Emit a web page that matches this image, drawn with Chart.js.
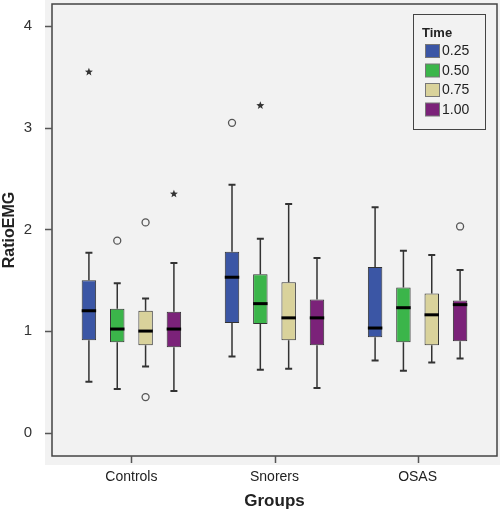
<!DOCTYPE html>
<html>
<head>
<meta charset="utf-8">
<script src="https://cdn.jsdelivr.net/npm/chart.js@4.4.1/dist/chart.umd.min.js"></script>
<style>
  html, body { margin: 0; padding: 0; background: #fff; }
  #wrap { width: 500px; height: 517px; }
</style>
</head>
<body>
<div id="wrap"><canvas id="boxchart"></canvas></div>
<script>
// groups along the x axis
const groups = ['Controls', 'Snorers', 'OSAS'];
const groupIdx = [0, 1, 2];
const yTicks = [0, 1, 2, 3, 4];

// legend entries (Time)
const timeLabels = ['0.25', '0.50', '0.75', '1.00'];
const timeColors = ['#3b56a5', '#3bb54a', '#d9d29b', '#7b2279'];

// per group: [low whisker, Q1, median, Q3, high whisker]
const box025 = [[0.50, 0.91, 1.20, 1.50, 1.77], [0.75, 1.08, 1.53, 1.78, 2.44], [0.71, 0.94, 1.03, 1.63, 2.22]];
const box050 = [[0.43, 0.89, 1.02, 1.22, 1.47], [0.62, 1.07, 1.27, 1.56, 1.91], [0.61, 0.89, 1.23, 1.43, 1.79]];
const box075 = [[0.65, 0.86, 1.00, 1.20, 1.32], [0.63, 0.91, 1.13, 1.48, 2.25], [0.69, 0.86, 1.16, 1.37, 1.75]];
const box100 = [[0.41, 0.84, 1.02, 1.19, 1.67], [0.44, 0.86, 1.13, 1.31, 1.72], [0.73, 0.90, 1.26, 1.30, 1.60]];

// outliers (circles) and extremes (stars) per group
const out025 = [[], [3.05], []];
const out050 = [[1.89], [], []];
const out075 = [[0.35, 2.07], [], []];
const out100 = [[], [], [2.03]];
const ext025 = [[3.55], [], []];
const ext050 = [[], [3.22], []];
const ext075 = [[], [], []];
const ext100 = [[2.35], [], []];

const boxes = [box025, box050, box075, box100];
const outs = [out025, out050, out075, out100];
const exts = [ext025, ext050, ext075, ext100];

const datasets = timeLabels.map((lab, i) => ({
  label: lab,
  data: groupIdx.map((g, j) => ({ x: g, y: [boxes[i][j][1], boxes[i][j][3]] })),
  backgroundColor: timeColors[i],
  borderColor: '#333',
  borderWidth: 1,
  borderSkipped: false,
  stats: boxes[i],
  outliers: outs[i],
  extremes: exts[i],
}));

// draws background, whiskers, medians, outliers, frame, tick marks and legend
const boxExtras = {
  id: 'boxExtras',
  beforeDraw(chart) {
    const ctx = chart.ctx;
    ctx.save();
    ctx.fillStyle = '#f2f2f2';
    ctx.fillRect(45, 0, chart.width - 45, 465);
    ctx.restore();
  },
  beforeDatasetsDraw(chart) {
    const ctx = chart.ctx;
    const y = chart.scales.y;
    ctx.save();
    ctx.strokeStyle = '#333';
    chart.data.datasets.forEach((ds, i) => {
      chart.getDatasetMeta(i).data.forEach((bar, j) => {
        const s = ds.stats[j];
        const lo = y.getPixelForValue(s[0]);
        const q1 = y.getPixelForValue(s[1]);
        const q3 = y.getPixelForValue(s[3]);
        const hi = y.getPixelForValue(s[4]);
        ctx.lineWidth = 1.5;
        ctx.beginPath();
        ctx.moveTo(bar.x, lo); ctx.lineTo(bar.x, q1);
        ctx.moveTo(bar.x, q3); ctx.lineTo(bar.x, hi);
        ctx.stroke();
        ctx.lineWidth = 2;
        ctx.beginPath();
        ctx.moveTo(bar.x - 3.5, lo); ctx.lineTo(bar.x + 3.5, lo);
        ctx.moveTo(bar.x - 3.5, hi); ctx.lineTo(bar.x + 3.5, hi);
        ctx.stroke();
      });
    });
    ctx.restore();
  },
  afterDatasetsDraw(chart) {
    const ctx = chart.ctx;
    const { x, y } = chart.scales;
    const a = chart.chartArea;
    ctx.save();
    chart.data.datasets.forEach((ds, i) => {
      chart.getDatasetMeta(i).data.forEach((bar, j) => {
        const med = y.getPixelForValue(ds.stats[j][2]);
        ctx.strokeStyle = '#000';
        ctx.lineWidth = 3;
        ctx.beginPath();
        ctx.moveTo(bar.x - bar.width / 2, med);
        ctx.lineTo(bar.x + bar.width / 2, med);
        ctx.stroke();
        ds.outliers[j].forEach((v) => {
          ctx.strokeStyle = '#555';
          ctx.lineWidth = 1.3;
          ctx.beginPath();
          ctx.arc(bar.x, y.getPixelForValue(v), 3.5, 0, Math.PI * 2);
          ctx.stroke();
        });
        ds.extremes[j].forEach((v) => {
          const cy = y.getPixelForValue(v);
          ctx.fillStyle = '#333';
          ctx.beginPath();
          for (let k = 0; k < 10; k++) {
            const r = k % 2 ? 1.8 : 4.2;
            const ang = -Math.PI / 2 + k * Math.PI / 5;
            ctx.lineTo(bar.x + r * Math.cos(ang), cy + r * Math.sin(ang));
          }
          ctx.closePath();
          ctx.fill();
        });
      });
    });
    // plot frame
    ctx.strokeStyle = '#444';
    ctx.lineWidth = 1.5;
    ctx.strokeRect(a.left, a.top, a.right - a.left, a.bottom - a.top);
    // tick marks
    ctx.strokeStyle = '#555';
    ctx.lineWidth = 1.5;
    ctx.beginPath();
    yTicks.forEach((v) => {
      const py = Math.round(y.getPixelForValue(v)) + 0.5;
      ctx.moveTo(a.left - 7, py); ctx.lineTo(a.left, py);
    });
    groupIdx.forEach((v) => {
      const px = Math.round(x.getPixelForValue(v)) + 0.5;
      ctx.moveTo(px, a.bottom); ctx.lineTo(px, a.bottom + 7);
    });
    ctx.stroke();
    ctx.restore();
  },
  afterDraw(chart) {
    const ctx = chart.ctx;
    ctx.save();
    ctx.fillStyle = '#f2f2f2';
    ctx.fillRect(413.5, 14.5, 72, 115);
    ctx.strokeStyle = '#444';
    ctx.lineWidth = 1;
    ctx.strokeRect(413.5, 14.5, 72, 115);
    ctx.fillStyle = '#222';
    ctx.textBaseline = 'middle';
    ctx.font = 'bold 13px "Liberation Sans", Arial, sans-serif';
    ctx.fillText('Time', 422, 33);
    ctx.font = '14px "Liberation Sans", Arial, sans-serif';
    chart.data.datasets.forEach((ds, i) => {
      const cy = 51 + i * 19.5;
      ctx.fillStyle = ds.backgroundColor;
      ctx.fillRect(425.5, cy - 6.5, 14, 13);
      ctx.strokeStyle = '#777';
      ctx.strokeRect(425.5, cy - 6.5, 14, 13);
      ctx.fillStyle = '#222';
      ctx.fillText(ds.label, 442, cy + 0.5);
    });
    ctx.restore();
  },
};

const noPad = (scale) => {
  scale.paddingTop = 0;
  scale.paddingBottom = 0;
  scale.paddingLeft = 0;
  scale.paddingRight = 0;
};

const chartconfig = {
  type: 'bar',
  data: { datasets },
  plugins: [boxExtras],
  options: {
    responsive: true,
    maintainAspectRatio: false,
    animation: false,
    events: [],
    layout: { padding: { top: 4, right: 3, left: 0, bottom: 0 } },
    datasets: { bar: { categoryPercentage: 0.792, barPercentage: 0.51, grouped: true } },
    scales: {
      x: {
        type: 'linear',
        offset: false,
        min: -0.555,
        max: 2.555,
        afterBuildTicks: (scale) => { scale.ticks = groupIdx.map((v) => ({ value: v })); },
        afterFit: (scale) => { scale.height = 61; noPad(scale); },
        grid: { display: false, offset: false, tickLength: 7 },
        border: { display: false },
        ticks: {
          padding: 6,
          color: '#222',
          font: { family: '"Liberation Sans", Arial, sans-serif', size: 14 },
          callback: (v) => groups[v],
        },
        title: {
          display: true,
          text: 'Groups',
          color: '#222',
          padding: { top: 0, bottom: 5 },
          font: { family: '"Liberation Sans", Arial, sans-serif', size: 17, weight: 'bold' },
        },
      },
      y: {
        min: -0.23,
        max: 4.22,
        afterBuildTicks: (scale) => { scale.ticks = yTicks.map((v) => ({ value: v })); },
        afterFit: (scale) => { scale.width = 52; noPad(scale); },
        grid: { display: false, tickLength: 7 },
        border: { display: false },
        ticks: {
          padding: 13,
          color: '#333',
          font: { family: '"Liberation Sans", Arial, sans-serif', size: 15 },
          callback: (v) => String(v),
        },
        title: {
          display: true,
          text: 'RatioEMG',
          color: '#222',
          padding: { top: 0, bottom: 0 },
          font: { family: '"Liberation Sans", Arial, sans-serif', size: 16, weight: 'bold' },
        },
      },
    },
    plugins: {
      legend: { display: false },
      tooltip: { enabled: false },
    },
  },
};

const chart = new Chart('boxchart', chartconfig);
</script>
</body>
</html>
